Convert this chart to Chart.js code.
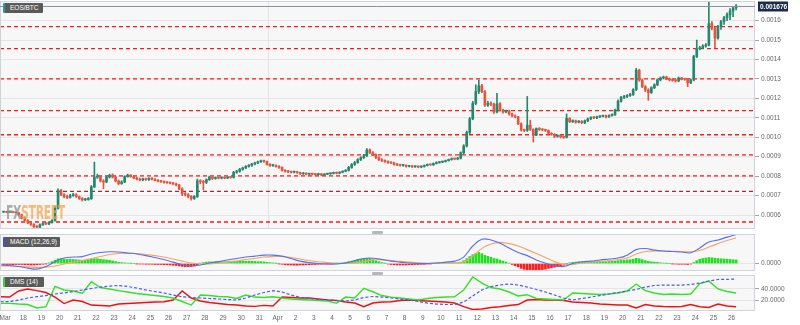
<!DOCTYPE html>
<html>
<head>
<meta charset="utf-8">
<script src="https://cdn.jsdelivr.net/npm/chart.js@4/dist/chart.umd.min.js"></script>
<style>
  html, body { margin: 0; padding: 0; background: #fff; }
  #wrap { position: relative; width: 800px; height: 325px; overflow: hidden; font-family: 'Liberation Sans', Arial, sans-serif; }
  canvas { position: absolute; left: 0; }
  .tag { position: absolute; left: 3px; height: 10px; line-height: 10px; background: #5a5a5a; color: #fff; font-size: 6.5px; padding-left: 5px; box-sizing: border-box; border-left: 2px solid #2a9d8f; border-radius: 1px; white-space: nowrap; z-index: 3; }
  .grip { position: absolute; left: 372px; width: 11px; height: 3px; background: #b8b8b8; border-radius: 1px; z-index: 3; }
  #wm { position: absolute; left: 6px; top: 200px; font: bold 20px 'DejaVu Sans Condensed', 'DejaVu Sans', sans-serif; opacity: 0.72; transform: scaleX(0.6); transform-origin: left top; white-space: nowrap; z-index: 2; letter-spacing: -0.5px; }
</style>
</head>
<body>
<div id="wrap">
  <canvas id="main" width="800" height="231" style="top:0"></canvas>
  <canvas id="macd" width="800" height="41" style="top:232px"></canvas>
  <canvas id="dmi" width="800" height="52" style="top:273px"></canvas>
  <div class="tag" style="top:3px;width:40px">EOS/BTC</div>
  <div class="tag" style="top:237px;width:57px;border-left-color:#3b4fe0">MACD (12,26,9)</div>
  <div class="tag" style="top:277px;width:41px;border-left-color:#36d236">DMS (14)</div>
  <div class="grip" style="top:231px"></div>
  <div class="grip" style="top:272px"></div>
  <div id="wm"><span style="color:#8d8d8d">FX</span><span style="color:#f2a24a">STREET</span></div>
</div>
<script>
// dias contados desde el 17 de marzo (0 = Mar 17, 15 = Apr 1, 40 = Apr 26)
const dayLabels = ['Mar','18','19','20','21','22','23','24','25','26','27','28','29','30','31',
  'Apr','2','3','4','5','6','7','8','9','10','11','12','13','14','15','16','17','18','19','20',
  '21','22','23','24','25','26']

// velas de 4h, precios en 1e-4 BTC (una fila por dia)
const firstOpen = 6.15
const closes = [
  6.16,6.14,6.15,6.13,6.12,6.02,
  5.85,5.72,5.60,5.52,5.40,5.38,
  5.50,5.56,5.54,5.62,5.72,6.35,
  7.25,7.05,6.95,6.90,7.00,7.05,
  6.95,6.85,6.78,6.80,6.84,7.45,
  7.95,7.98,7.75,7.70,7.95,8.05,
  7.95,7.75,7.62,7.70,7.98,8.05,
  7.98,7.90,7.85,7.80,7.86,7.82,
  7.88,7.84,7.78,7.74,7.72,7.68,
  7.66,7.64,7.60,7.55,7.35,7.10,
  7.05,6.95,6.85,6.95,7.75,7.72,
  7.68,7.82,7.95,7.88,7.92,7.90,
  7.92,7.90,7.95,7.93,8.20,8.25,
  8.35,8.42,8.50,8.55,8.62,8.68,
  8.74,8.78,8.76,8.60,8.55,8.55,
  8.50,8.45,8.30,8.25,8.22,8.20,
  8.22,8.18,8.12,8.15,8.10,8.12,
  8.10,8.08,8.12,8.06,8.10,8.12,
  8.14,8.18,8.15,8.20,8.25,8.30,
  8.45,8.60,8.70,8.85,8.95,9.05,
  9.35,9.20,9.10,8.95,8.85,8.80,
  8.75,8.70,8.68,8.60,8.58,8.55,
  8.55,8.50,8.52,8.48,8.50,8.47,
  8.50,8.55,8.60,8.58,8.65,8.70,
  8.72,8.75,8.80,8.85,8.90,8.88,
  8.92,9.20,9.55,10.25,10.95,11.74,
  12.35,12.65,12.35,11.65,11.75,11.70,
  11.30,11.72,11.40,11.30,11.35,11.20,
  11.10,11.05,10.70,10.37,10.35,10.62,
  10.40,10.12,10.45,10.40,10.38,10.35,
  10.20,10.15,10.05,10.10,10.02,10.00,
  10.97,10.80,10.85,10.78,10.82,10.75,
  10.85,10.95,11.02,11.00,11.05,11.08,
  11.10,11.05,11.12,11.15,11.40,11.85,
  12.05,12.10,12.15,12.20,12.45,13.45,
  12.94,12.60,12.43,12.30,12.55,12.70,
  12.95,13.05,13.10,13.00,12.95,12.92,
  12.90,13.05,13.00,12.98,12.80,12.95,
  14.15,14.55,14.60,14.70,14.75,15.85,
  15.60,15.10,15.70,15.95,16.15,16.30,
  16.50,16.65,16.76
]
const highs = [
  6.19,6.18,6.17,6.17,6.15,6.14,
  6.05,5.90,5.76,5.66,5.56,5.46,
  5.54,5.60,5.60,5.66,5.76,6.45,
  7.35,7.32,7.10,7.02,7.06,7.12,
  7.10,6.98,6.90,6.86,6.90,7.52,
  8.72,8.10,8.02,7.82,8.00,8.10,
  8.12,8.00,7.80,7.76,8.02,8.10,
  8.08,8.02,7.95,7.90,7.90,7.90,
  7.92,7.92,7.87,7.82,7.78,7.76,
  7.72,7.70,7.68,7.64,7.58,7.40,
  7.16,7.10,7.00,7.00,7.85,7.82,
  7.78,7.86,8.00,7.98,7.96,7.96,
  7.96,7.95,7.98,7.98,8.24,8.30,
  8.40,8.46,8.54,8.60,8.66,8.72,
  8.78,8.82,8.82,8.78,8.64,8.60,
  8.58,8.54,8.48,8.34,8.30,8.26,
  8.26,8.25,8.21,8.18,8.18,8.15,
  8.15,8.13,8.15,8.14,8.13,8.15,
  8.17,8.21,8.21,8.23,8.28,8.34,
  8.50,8.65,8.76,8.90,9.00,9.12,
  9.42,9.40,9.26,9.15,9.00,8.90,
  8.84,8.79,8.74,8.72,8.64,8.62,
  8.59,8.58,8.55,8.55,8.53,8.53,
  8.53,8.58,8.63,8.63,8.68,8.74,
  8.75,8.78,8.83,8.88,8.94,8.93,
  8.96,9.25,9.62,10.32,11.02,11.85,
  12.70,12.94,12.72,12.40,11.85,11.82,
  11.76,12.26,11.78,11.45,11.40,11.40,
  11.24,11.15,11.08,10.74,10.42,12.10,
  10.88,10.44,10.48,10.50,10.44,10.42,
  10.38,10.24,10.19,10.13,10.14,10.06,
  11.20,11.00,10.90,10.89,10.86,10.86,
  10.89,10.99,11.06,11.06,11.09,11.12,
  11.14,11.14,11.16,11.20,11.45,11.92,
  12.10,12.16,12.20,12.26,12.50,13.55,
  13.50,13.00,12.66,12.50,12.60,12.75,
  13.00,13.10,13.15,13.14,13.05,13.00,
  12.98,13.10,13.08,13.04,13.02,13.00,
  14.22,15.00,14.68,14.76,14.82,17.07,
  15.95,15.66,15.76,16.02,16.22,16.40,
  16.62,16.72,16.82
]
const lows = [
  6.13,6.12,6.12,6.11,6.10,5.98,
  5.80,5.68,5.55,5.46,5.30,5.28,
  5.34,5.46,5.50,5.50,5.58,5.68,
  6.30,7.00,6.88,6.84,6.86,6.96,
  6.90,6.80,6.72,6.74,6.76,6.80,
  7.40,7.88,7.70,7.35,7.66,7.90,
  7.90,7.70,7.55,7.58,7.66,7.94,
  7.94,7.86,7.80,7.76,7.76,7.78,
  7.78,7.80,7.75,7.70,7.68,7.64,
  7.62,7.60,7.56,7.50,7.30,7.00,
  6.98,6.88,6.76,6.80,6.90,7.60,
  7.30,7.62,7.78,7.82,7.84,7.86,
  7.86,7.86,7.87,7.89,7.90,8.15,
  8.20,8.30,8.38,8.46,8.50,8.58,
  8.64,8.70,8.70,8.56,8.50,8.50,
  8.46,8.40,8.26,8.20,8.18,8.16,
  8.16,8.14,8.08,8.09,8.06,8.07,
  8.06,8.04,8.05,8.02,8.03,8.07,
  8.09,8.11,8.12,8.12,8.17,8.22,
  8.26,8.40,8.55,8.66,8.80,8.90,
  9.00,9.15,9.05,8.90,8.80,8.75,
  8.71,8.66,8.64,8.56,8.54,8.51,
  8.51,8.46,8.47,8.44,8.45,8.43,
  8.43,8.46,8.52,8.55,8.55,8.62,
  8.66,8.69,8.72,8.77,8.82,8.84,
  8.84,8.88,9.15,9.50,10.18,10.90,
  11.68,12.25,12.30,11.58,11.58,11.62,
  11.22,11.25,11.35,11.24,11.26,11.14,
  11.05,11.00,10.65,10.32,10.28,10.30,
  10.35,9.75,10.08,10.35,10.33,10.30,
  10.15,10.10,9.98,10.00,9.96,9.94,
  9.96,10.75,10.76,10.72,10.74,10.70,
  10.70,10.80,10.90,10.96,10.95,11.01,
  11.04,11.00,11.02,11.08,11.12,11.35,
  11.80,11.98,12.04,12.10,12.15,12.40,
  12.88,12.55,12.35,11.90,12.25,12.50,
  12.65,12.90,13.00,12.96,12.90,12.88,
  12.84,12.85,12.95,12.93,12.60,12.76,
  12.90,14.10,14.50,14.56,14.64,14.70,
  15.52,14.60,15.05,15.55,15.80,16.00,
  16.05,16.20,16.55
]

// lineas horizontales discontinuas (1e-4 BTC)
const levels = [15.69, 14.56, 13.0, 11.37, 10.13, 9.09, 8.01, 7.22, 5.64]
const priceTicks = [6, 7, 8, 9, 10, 11, 12, 13, 14, 15, 16]

// MACD (1e-5 BTC), un punto cada 12h
const macdLine = [-0.6,-0.8,-1.25,-1.9,-2.3,-1.25,0.8,2.3,2.7,2.9,
  4.0,4.6,4.9,4.8,4.4,4.0,3.3,2.5,1.7,0.6,
  -0.4,-1.0,-0.6,0.2,0.8,1.5,2.1,2.7,3.1,3.5,
  3.5,3.1,2.1,1.0,0.4,0,-0.2,-0.2,0.2,1.25,
  2.1,2.2,1.7,1.0,0.6,0.2,0,0,0.2,0.6,
  1.0,2.7,7.3,10.1,9.8,8.4,6.5,4.6,3.3,1.5,
  0.2,-0.8,-1.25,0,0.75,1.0,1.5,1.9,2.3,3.5,
  5.8,6.25,5.6,5.2,5.0,4.8,4.5,6.5,9.0,9.8,
  11.0,12.1]
const signalLine = [-1.0,-1.0,-1.2,-1.4,-1.6,-1.5,-1.0,-0.2,0.6,1.25,
  2.1,2.9,3.75,4.2,4.25,4.2,3.8,3.3,2.7,1.9,
  1.0,0.2,-0.2,-0.2,0.2,0.6,1.0,1.7,2.1,2.7,
  2.9,2.9,2.5,1.9,1.25,0.75,0.4,0.1,0,0.2,
  0.8,1.5,1.55,1.3,0.9,0.6,0.3,0.1,0.1,0.2,
  0.3,0.6,3.1,6.3,8.1,8.8,8.3,7.3,5.8,4.2,
  2.5,0.8,-0.4,-0.4,0.2,0.6,0.9,1.25,1.6,2.3,
  4.0,5.0,5.2,5.2,5.1,5.0,4.9,5.4,6.9,8.3,
  9.6,10.75]
// histograma por vela de 4h
const macdHist = [
  -0.4,-0.4,-0.4,-0.5,-0.4,-0.4,
  -0.4,-0.5,-0.5,-0.6,-0.6,-0.5,
  -0.4,-0.3,-0.1,0.3,0.8,1.4,
  2.0,2.1,1.9,1.7,1.8,1.7,
  1.6,1.5,1.4,1.4,1.5,1.8,
  2.0,2.0,1.8,1.6,1.5,1.4,
  1.1,0.8,0.5,0.4,0.3,0.2,
  0.1,0.0,-0.1,-0.2,-0.2,-0.3,
  -0.3,-0.3,-0.4,-0.4,-0.4,-0.5,
  -0.5,-0.6,-0.7,-0.8,-1.0,-1.2,
  -1.3,-1.3,-1.2,-1.0,-0.5,0.2,
  0.4,0.6,0.7,0.7,0.8,0.8,
  0.8,0.8,0.8,0.9,1.0,1.0,
  1.0,1.1,1.0,1.0,1.0,0.9,
  0.8,0.8,0.7,0.5,0.4,0.3,
  0.1,-0.1,-0.3,-0.5,-0.6,-0.6,
  -0.7,-0.7,-0.6,-0.6,-0.5,-0.5,
  -0.4,-0.4,-0.3,-0.3,-0.2,-0.1,
  -0.1,0.0,0.1,0.2,0.3,0.5,
  0.8,1.0,1.3,1.6,1.8,2.0,
  2.1,1.9,1.6,1.2,0.8,0.4,
  0.1,-0.2,-0.4,-0.5,-0.6,-0.6,
  -0.6,-0.6,-0.5,-0.5,-0.4,-0.4,
  -0.3,-0.3,-0.2,-0.1,0.0,0.1,
  0.1,0.2,0.2,0.3,0.3,0.3,
  0.4,0.6,1.2,2.0,2.9,3.7,
  4.2,4.6,4.1,3.4,3.0,2.6,
  2.1,1.9,1.4,1.0,0.6,0.2,
  -0.4,-0.9,-1.4,-2.0,-2.4,-2.6,
  -2.8,-2.9,-2.8,-2.7,-2.5,-2.3,
  -2.0,-1.8,-1.5,-1.2,-0.9,-0.7,
  -0.1,0.3,0.5,0.6,0.7,0.7,
  0.7,0.7,0.7,0.7,0.8,0.8,
  0.8,0.8,0.8,0.9,1.0,1.2,
  1.3,1.4,1.5,1.6,1.8,2.2,
  2.0,1.6,1.2,0.9,0.7,0.6,
  0.5,0.3,0.2,0.1,0.0,-0.1,
  -0.2,-0.3,-0.3,-0.3,-0.4,-0.2,
  0.4,1.2,1.8,2.1,2.3,2.5,
  2.4,2.2,2.1,2.0,1.9,1.8,
  1.7,1.6,1.5
]

// DMI (14), un punto cada 12h
const plusDI = [15.4,15.4,14.2,13.4,7.5,9.7,44,38,36.3,32.4,
  52,42.2,39.7,37,34.6,32,30.3,28.6,27,24.4,
  18.5,12.5,29.5,28.6,27,26.6,23.6,29.5,26,25.3,
  26.6,24.4,22.7,21.9,21,20.2,19.3,15.4,26,24.4,
  40.8,35,28.6,26,24.4,22.7,21,23.6,25.3,26,
  26.6,38,60,49.8,42.2,39.7,34.6,27.8,30,23.6,
  22.7,21.9,21,32.9,32,31.2,30.3,31.2,32.9,36.3,
  48.1,37,32.9,30.3,31.2,30.3,31.2,49,53,39.7,
  35.4,32.9]
const minusDI = [26.6,26,36.3,39.7,37,33.7,26,15,21,18.5,
  12.5,11.7,10.8,14.2,15.1,15.9,16.8,17.6,18.1,21,
  36.3,24.4,19.3,16.8,15.1,13.4,12.5,10.8,10.3,12,
  11,26,25.3,24.4,24.4,22.7,21,20.2,17.6,15.9,
  9.7,15.9,17.6,18.1,20.2,21,20.2,19.3,18.5,17.6,
  15.9,9.7,4.9,5.8,8.3,9.7,11.7,13.4,21,21.9,
  21,21,20.2,17.6,16.8,15.9,14.2,13.4,12.5,12.5,
  7.5,13.4,10.8,10,9.7,10,13.4,9.7,8.3,14.2,
  10.8,9.7]
const adx = [18.1,18.5,21,24.4,26.6,28.6,31.2,32.9,35.4,38,
  40.5,43,44.7,45.6,43.9,41.4,38,35.4,32.9,29.5,
  26.6,25.3,24.4,23.6,22.7,21.9,21,24.4,29.5,33.7,
  37,34.6,29.5,25.3,23.6,21.9,21,20.2,19.3,21,
  25.3,27,26,24.4,22.7,21,18.5,15.9,14.2,13.4,
  13.4,17.6,27.8,38,43.9,46.4,48.1,46.4,43,38.8,
  34.6,29.5,24.4,21,23.6,26,28.6,31.2,33.7,36.3,
  38.8,43,45.6,46.4,46.4,46.4,47.3,49.8,53.2,55.8,
  56.1,56.6]

const xMin = -0.28
const xMax = 41.29
const candleX = i => -1 / 12 + i / 6     // centro de cada vela de 4h
const lineX = k => -0.25 + k / 2         // puntos cada 12h

const UP = '#26876d'
const DOWN = '#e2553f'

Chart.defaults.font.family = "'Liberation Sans', Arial, sans-serif"
Chart.defaults.font.size = 6.5
Chart.defaults.color = '#666'
Chart.defaults.animation = false

// Fondo gris y marco de cada panel
const panelFrame = {
  id: 'panelFrame',
  beforeDraw(chart) {
    const { ctx, chartArea: a } = chart
    ctx.save()
    ctx.fillStyle = '#f7f7f7'
    ctx.fillRect(a.left, a.top, a.width, a.height)
    ctx.restore()
  },
  afterDraw(chart) {
    const { ctx, chartArea: a } = chart
    ctx.save()
    ctx.strokeStyle = '#cfd3dc'
    ctx.lineWidth = 1
    ctx.strokeRect(a.left + 0.5, a.top + 0.5, a.width - 1, a.height - 1)
    ctx.restore()
  }
}

// Linea y etiqueta del ultimo precio
const lastPrice = {
  id: 'lastPrice',
  afterDraw(chart) {
    const { ctx, chartArea: a, scales } = chart
    const last = closes[closes.length - 1]
    const y = Math.round(scales.y.getPixelForValue(last)) + 0.5
    ctx.save()
    ctx.strokeStyle = '#8791a3'
    ctx.lineWidth = 1
    ctx.beginPath()
    ctx.moveTo(a.left, y)
    ctx.lineTo(a.right, y)
    ctx.stroke()
    ctx.fillStyle = '#1d2b4a'
    ctx.fillRect(a.right + 3, y - 5, 30, 10)
    ctx.fillStyle = '#fff'
    ctx.font = "bold 6.5px 'Liberation Sans', Arial, sans-serif"
    ctx.textBaseline = 'middle'
    ctx.fillText((last / 1e4).toFixed(6), a.right + 5, y + 0.5)
    ctx.restore()
  }
}

const fixY = s => { s.width = 45; s.paddingTop = 0; s.paddingBottom = 0 }
const fixXHidden = s => { s.height = 0; s.paddingLeft = 0; s.paddingRight = 0 }

const yAxis = (min, max, ticks, fmt) => ({
  position: 'right',
  min: min,
  max: max,
  afterBuildTicks: s => { s.ticks = ticks.map(v => ({ value: v })) },
  afterFit: fixY,
  border: { display: false },
  grid: { color: '#e5e5e5', tickColor: '#a8a8a8', tickLength: 4 },
  ticks: { padding: 2, callback: fmt }
})

// ---------- panel principal: velas ----------
const opens = closes.map((c, i) => i === 0 ? firstOpen : closes[i - 1])
const candleColors = closes.map((c, i) => c >= opens[i] ? UP : DOWN)

const levelSets = levels.map(lv => ({
  type: 'line',
  data: [{ x: xMin, y: lv }, { x: xMax, y: lv }],
  borderColor: lv === 7.22 ? '#933' : '#f21d1d',
  borderWidth: 1.3,
  borderDash: [4, 3],
  pointRadius: 0,
  order: 5
}))

new Chart(document.getElementById('main'), {
  type: 'bar',
  data: {
    datasets: [
      ...levelSets,
      {
        data: closes.map((c, i) => ({ x: candleX(i), y: [Math.min(lows[i], opens[i], c), Math.max(highs[i], opens[i], c)] })),
        backgroundColor: candleColors,
        barThickness: 1,
        grouped: false,
        order: 2
      },
      {
        data: closes.map((c, i) => ({ x: candleX(i), y: [opens[i], c] })),
        backgroundColor: candleColors,
        barThickness: 2,
        minBarLength: 1,
        grouped: false,
        order: 1
      }
    ]
  },
  options: {
    responsive: false,
    layout: { padding: { top: 1, bottom: 2, left: 0, right: 0 } },
    plugins: { legend: { display: false }, tooltip: { enabled: false } },
    scales: {
      x: {
        type: 'linear', min: xMin, max: xMax, offset: false,
        afterBuildTicks: s => { s.ticks = dayLabels.map((_, d) => ({ value: d })) },
        afterFit: fixXHidden,
        border: { display: false },
        grid: { drawTicks: false, color: c => c.tick && c.tick.value === 15 ? '#e2e2e2' : 'rgba(0,0,0,0)' },
        ticks: { display: false }
      },
      y: yAxis(5.28, 17.01, priceTicks, v => (v / 1e4).toFixed(4))
    }
  },
  plugins: [panelFrame, lastPrice]
})

// ---------- MACD ----------
new Chart(document.getElementById('macd'), {
  type: 'bar',
  data: {
    datasets: [
      {
        data: macdHist.map((v, i) => ({ x: candleX(i), y: v })),
        backgroundColor: macdHist.map(v => v >= 0 ? '#1fe01f' : '#ff1e1e'),
        barThickness: 2,
        order: 3
      },
      {
        type: 'line',
        data: signalLine.map((v, k) => ({ x: lineX(k), y: v })),
        borderColor: '#f4a462', borderWidth: 1.1, pointRadius: 0, tension: 0.4, order: 2
      },
      {
        type: 'line',
        data: macdLine.map((v, k) => ({ x: lineX(k), y: v })),
        borderColor: '#5a6df0', borderWidth: 1.1, pointRadius: 0, tension: 0.4, order: 1
      }
    ]
  },
  options: {
    responsive: false,
    layout: { padding: { top: 2, bottom: 2, left: 0, right: 0 } },
    plugins: { legend: { display: false }, tooltip: { enabled: false } },
    scales: {
      x: { type: 'linear', min: xMin, max: xMax, offset: false, display: false },
      y: yAxis(-3.1, 12.3, [0], v => (v / 1e5).toFixed(4))
    }
  },
  plugins: [panelFrame]
})

// ---------- DMI ----------
new Chart(document.getElementById('dmi'), {
  type: 'line',
  data: {
    datasets: [
      { data: adx.map((v, k) => ({ x: lineX(k), y: v })), borderColor: '#4a5af0', borderDash: [3, 2], borderWidth: 1.2, pointRadius: 0 },
      { data: plusDI.map((v, k) => ({ x: lineX(k), y: v })), borderColor: '#36e02a', borderWidth: 1.4, pointRadius: 0 },
      { data: minusDI.map((v, k) => ({ x: lineX(k), y: v })), borderColor: '#ea1212', borderWidth: 1.4, pointRadius: 0 }
    ]
  },
  options: {
    responsive: false,
    layout: { padding: { top: 2, bottom: 0, left: 0, right: 0 } },
    plugins: { legend: { display: false }, tooltip: { enabled: false } },
    scales: {
      x: {
        type: 'linear', min: xMin, max: xMax, offset: false,
        afterBuildTicks: s => { s.ticks = dayLabels.map((_, d) => ({ value: d })) },
        afterFit: s => { s.height = 14; s.paddingLeft = 0; s.paddingRight = 0 },
        border: { display: false },
        grid: { display: false, drawTicks: false },
        ticks: { autoSkip: false, maxRotation: 0, padding: 3, callback: v => dayLabels[v] }
      },
      y: yAxis(2.4, 63.4, [20, 40], v => v.toFixed(4))
    }
  },
  plugins: [panelFrame]
})
</script>
</body>
</html>
